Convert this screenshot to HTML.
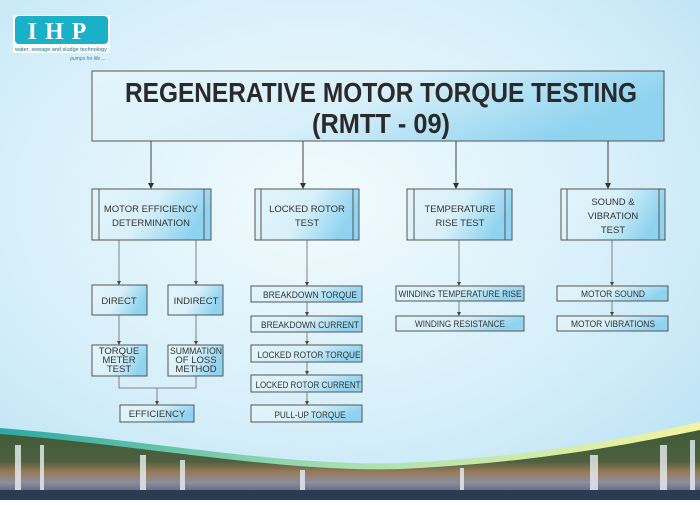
<!DOCTYPE html>
<html><head><meta charset="utf-8"><style>
body{margin:0;width:700px;height:500px;overflow:hidden;font-family:"Liberation Sans",sans-serif;}
</style></head><body>
<svg width="700" height="500" xmlns="http://www.w3.org/2000/svg" font-family="Liberation Sans, sans-serif">
<defs>
<radialGradient id="bg" cx="0.45" cy="0.4" r="0.8">
<stop offset="0" stop-color="#f2fbfe"/><stop offset="0.6" stop-color="#d4eef9"/><stop offset="1" stop-color="#b5e0f4"/></radialGradient>
<linearGradient id="bx" x1="0" y1="0" x2="1" y2="0.3">
<stop offset="0" stop-color="#e4f5fb"/><stop offset="0.55" stop-color="#d8f0fa"/><stop offset="1" stop-color="#8fd3f0"/></linearGradient>
<linearGradient id="band" x1="0" y1="0" x2="1" y2="0">
<stop offset="0" stop-color="#2aa9a4"/><stop offset="0.5" stop-color="#a9e0b0"/><stop offset="1" stop-color="#f4f4a0"/></linearGradient>
<linearGradient id="photo" x1="0" y1="0" x2="0" y2="1">
<stop offset="0" stop-color="#3f5a36"/><stop offset="0.45" stop-color="#4e6040"/><stop offset="0.6" stop-color="#9a7a5a"/><stop offset="0.75" stop-color="#8a8fa0"/><stop offset="1" stop-color="#3a4a60"/></linearGradient>
<marker id="ar" markerWidth="6" markerHeight="6" refX="6" refY="3" orient="auto" markerUnits="userSpaceOnUse"><path d="M0,0 L6,3 L0,6 z" fill="#333"/></marker>
<marker id="a2" markerWidth="4" markerHeight="4" refX="4" refY="2" orient="auto" markerUnits="userSpaceOnUse"><path d="M0,0 L4,2 L0,4 z" fill="#444"/></marker>
</defs>
<rect width="700" height="500" fill="url(#bg)"/>
<path d="M0,428 C150,440 300,470 420,462 C540,455 620,440 700,422 L700,500 L0,500 Z" fill="url(#band)"/>
<path d="M0,434 C150,446 300,476 420,468 C540,461 620,446 700,430 L700,500 L0,500 Z" fill="url(#photo)"/>
<g fill="#e8eef2" opacity="0.8">
<rect x="15" y="445" width="6" height="55"/><rect x="40" y="445" width="4" height="55"/><rect x="140" y="455" width="6" height="45"/><rect x="180" y="460" width="5" height="40"/><rect x="300" y="470" width="5" height="30"/><rect x="460" y="468" width="4" height="32"/><rect x="590" y="455" width="8" height="45"/><rect x="660" y="445" width="7" height="55"/><rect x="690" y="440" width="5" height="60"/>
</g>
<rect x="0" y="490" width="700" height="10" fill="#2d3b52"/>
<rect x="13" y="15" width="97" height="38" fill="#fff"/>
<rect x="15" y="16" width="93" height="28" rx="4" fill="#1ab0c8"/>
<text x="61" y="39" text-anchor="middle" font-family="Liberation Serif,serif" font-weight="bold" font-size="24" fill="#fff" letter-spacing="8">IHP</text>
<text x="61" y="51" text-anchor="middle" font-size="5.5" fill="#1a6a90">water, sewage and sludge technology</text>
<text x="88" y="60" text-anchor="middle" font-size="5" font-style="italic" fill="#3080c0">pumps for life ...</text>
<rect x="92" y="71" width="572" height="70" fill="url(#bx)" stroke="#555" stroke-width="1"/>
<text x="381" y="102" text-anchor="middle" font-weight="bold" font-size="28" fill="#2a2a2a" textLength="512" lengthAdjust="spacingAndGlyphs">REGENERATIVE MOTOR TORQUE TESTING</text>
<text x="381" y="133" text-anchor="middle" font-weight="bold" font-size="28" fill="#2a2a2a" textLength="138" lengthAdjust="spacingAndGlyphs">(RMTT - 09)</text>
<g stroke="#444" stroke-width="1" fill="none">
<line x1="151" y1="141" x2="151" y2="189" marker-end="url(#ar)"/>
<line x1="303" y1="141" x2="303" y2="189" marker-end="url(#ar)"/>
<line x1="456" y1="141" x2="456" y2="189" marker-end="url(#ar)"/>
<line x1="608" y1="141" x2="608" y2="189" marker-end="url(#ar)"/>
</g>
<g stroke="#666" stroke-width="0.8" fill="none">
<line x1="119" y1="240" x2="119" y2="285" marker-end="url(#a2)"/>
<line x1="196" y1="240" x2="196" y2="285" marker-end="url(#a2)"/>
<line x1="119" y1="315" x2="119" y2="345" marker-end="url(#a2)"/>
<line x1="196" y1="315" x2="196" y2="345" marker-end="url(#a2)"/>
<path d="M119,376 V388 H196 V376"/>
<line x1="157" y1="388" x2="157" y2="405" marker-end="url(#a2)"/>
<line x1="307" y1="240" x2="307" y2="286" marker-end="url(#a2)"/>
<line x1="307" y1="302" x2="307" y2="316" marker-end="url(#a2)"/>
<line x1="307" y1="332" x2="307" y2="345" marker-end="url(#a2)"/>
<line x1="307" y1="362" x2="307" y2="375" marker-end="url(#a2)"/>
<line x1="307" y1="392" x2="307" y2="405" marker-end="url(#a2)"/>
<line x1="459" y1="240" x2="459" y2="286" marker-end="url(#a2)"/>
<line x1="459" y1="301" x2="459" y2="316" marker-end="url(#a2)"/>
<line x1="612" y1="240" x2="612" y2="286" marker-end="url(#a2)"/>
<line x1="612" y1="301" x2="612" y2="316" marker-end="url(#a2)"/>
</g>
<g stroke="#555" stroke-width="1" fill="url(#bx)">
<rect x="92" y="189" width="119" height="51"/><rect x="255" y="189" width="104" height="51"/><rect x="407" y="189" width="105" height="51"/><rect x="561" y="189" width="104" height="51"/>
</g>
<g stroke="#555" stroke-width="1">
<line x1="99" y1="189" x2="99" y2="240"/><line x1="204" y1="189" x2="204" y2="240"/>
<line x1="261" y1="189" x2="261" y2="240"/><line x1="353" y1="189" x2="353" y2="240"/>
<line x1="414" y1="189" x2="414" y2="240"/><line x1="505" y1="189" x2="505" y2="240"/>
<line x1="567" y1="189" x2="567" y2="240"/><line x1="659" y1="189" x2="659" y2="240"/>
</g>
<g font-size="9.5" fill="#333" text-anchor="middle">
<text x="151" y="212">MOTOR EFFICIENCY</text><text x="151" y="226">DETERMINATION</text>
<text x="307" y="212">LOCKED ROTOR</text><text x="307" y="226">TEST</text>
<text x="460" y="212">TEMPERATURE</text><text x="460" y="226">RISE TEST</text>
<text x="613" y="205">SOUND &amp;</text><text x="613" y="219">VIBRATION</text><text x="613" y="233">TEST</text>
</g>
<g stroke="#555" stroke-width="1" fill="url(#bx)">
<rect x="92" y="285" width="55" height="30"/><rect x="168" y="285" width="55" height="30"/>
<rect x="92" y="345" width="55" height="31"/><rect x="168" y="345" width="55" height="31"/>
<rect x="120" y="405" width="74" height="17"/>
<rect x="251" y="286" width="111" height="16"/><rect x="251" y="316" width="111" height="16"/><rect x="251" y="345" width="111" height="17"/><rect x="251" y="375" width="111" height="17"/><rect x="251" y="405" width="111" height="17"/>
<rect x="396" y="286" width="128" height="15"/><rect x="396" y="316" width="128" height="15"/>
<rect x="557" y="286" width="111" height="15"/><rect x="557" y="316" width="111" height="15"/>
</g>
<g font-size="9.5" fill="#333" text-anchor="middle" lengthAdjust="spacingAndGlyphs">
<text x="119" y="304">DIRECT</text><text x="196" y="304">INDIRECT</text>
<text x="119" y="354">TORQUE</text><text x="119" y="363">METER</text><text x="119" y="372">TEST</text>
<text x="196" y="354" textLength="52" lengthAdjust="spacingAndGlyphs">SUMMATION</text><text x="196" y="363">OF LOSS</text><text x="196" y="372">METHOD</text>
<text x="157" y="417">EFFICIENCY</text>
<text x="310" y="298" textLength="94" lengthAdjust="spacingAndGlyphs">BREAKDOWN TORQUE</text>
<text x="310" y="328" textLength="98" lengthAdjust="spacingAndGlyphs">BREAKDOWN CURRENT</text>
<text x="309" y="358" textLength="103" lengthAdjust="spacingAndGlyphs">LOCKED ROTOR TORQUE</text>
<text x="308" y="388" textLength="105" lengthAdjust="spacingAndGlyphs">LOCKED ROTOR CURRENT</text>
<text x="310" y="418" textLength="71" lengthAdjust="spacingAndGlyphs">PULL-UP TORQUE</text>
<text x="460" y="297" textLength="123" lengthAdjust="spacingAndGlyphs">WINDING TEMPERATURE RISE</text>
<text x="460" y="327" textLength="90" lengthAdjust="spacingAndGlyphs">WINDING RESISTANCE</text>
<text x="613" y="297" textLength="64" lengthAdjust="spacingAndGlyphs">MOTOR SOUND</text>
<text x="613" y="327" textLength="84" lengthAdjust="spacingAndGlyphs">MOTOR VIBRATIONS</text>
</g>
</svg>
</body></html>
